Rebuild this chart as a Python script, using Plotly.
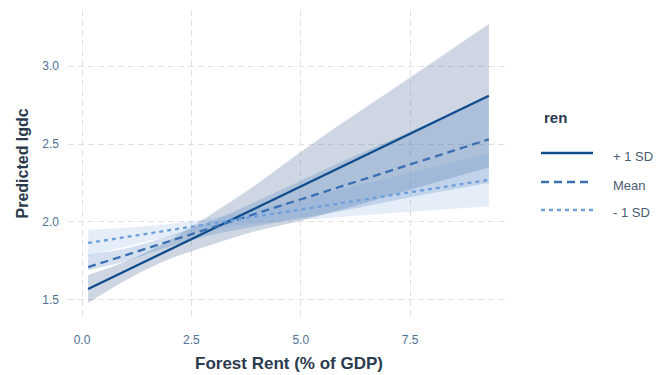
import plotly.graph_objects as go

# Predicted lgdc across forest rent, at three levels of the moderator "ren"
groups = ["+ 1 SD", "Mean", "- 1 SD"]

# fitted line endpoints
line_x = [0.14, 9.3]
fit_hi = [1.57, 2.81]    # + 1 SD
fit_mean = [1.71, 2.53]  # Mean
fit_lo = [1.865, 2.27]   # - 1 SD

# confidence ribbons
band_x = [0.14, 1.0, 2.0, 3.0, 4.0, 5.0, 6.0, 7.5, 9.3]
hi_lower = [1.48, 1.626, 1.762, 1.857, 1.943, 2.008, 2.084, 2.207, 2.35]
hi_upper = [1.66, 1.746, 1.882, 2.057, 2.243, 2.448, 2.644, 2.927, 3.27]
mean_lower = [1.69, 1.747, 1.842, 1.919, 1.974, 2.025, 2.074, 2.159, 2.25]
mean_upper = [1.79, 1.83, 1.912, 2.009, 2.134, 2.265, 2.394, 2.579, 2.81]
lo_lower = [1.78, 1.843, 1.907, 1.956, 1.991, 2.015, 2.034, 2.065, 2.10]
lo_upper = [1.95, 1.963, 1.987, 2.026, 2.081, 2.145, 2.214, 2.315, 2.44]

x_ticks = [0.0, 2.5, 5.0, 7.5]
y_ticks = [1.5, 2.0, 2.5, 3.0]

line_colors = ["#0f4c8c", "#3a70b2", "#6c9fda"]
band_colors = ["rgba(45,85,135,0.24)", "rgba(60,115,185,0.22)", "rgba(110,155,215,0.18)"]
dashes = ["solid", "8px,5px", "4px,4px"]

FONT = "Liberation Sans, Arial, sans-serif"
W, H = 657, 375
M = dict(l=68, r=148, t=10, b=58)
PW, PH = W - M["l"] - M["r"], H - M["t"] - M["b"]


def px(x):
    return (x - M["l"]) / PW


def py(y):
    return 1 - (y - M["t"]) / PH


fig = go.Figure()

bands = [(hi_lower, hi_upper), (mean_lower, mean_upper), (lo_lower, lo_upper)]
for (lower, upper), col in zip(bands, band_colors):
    fig.add_trace(go.Scatter(x=band_x, y=lower, mode="lines", line=dict(width=0, shape="spline"),
                             showlegend=False, hoverinfo="skip"))
    fig.add_trace(go.Scatter(x=band_x, y=upper, mode="lines", line=dict(width=0, shape="spline"),
                             fill="tonexty", fillcolor=col, showlegend=False,
                             hoverinfo="skip"))

for name, ys, col, dash in zip(groups, [fit_hi, fit_mean, fit_lo], line_colors, dashes):
    fig.add_trace(go.Scatter(x=line_x, y=ys, mode="lines", name=name,
                             line=dict(color=col, width=2.3, dash=dash),
                             showlegend=False))

tick_font = dict(family=FONT, size=12, color="#4f6f96")
grid = dict(showgrid=True, gridcolor="#e2e2e2", gridwidth=1, griddash="6px,4px",
            zeroline=False, showline=False, ticks="", tickfont=tick_font)

fig.update_xaxes(range=[-0.32, 9.76], tickvals=x_ticks,
                 ticktext=[f"{v:.1f}" for v in x_ticks], ticklabelstandoff=14, **grid)
fig.update_yaxes(range=[1.39, 3.36], tickvals=y_ticks,
                 ticktext=[f"{v:.1f}" for v in y_ticks], ticklabelstandoff=8, **grid)

annotations = [
    dict(text="<b>Forest Rent (% of GDP)</b>", x=0.5, y=py(363), xref="paper", yref="paper",
         showarrow=False, font=dict(family=FONT, size=17, color="#2b3a4d"),
         xanchor="center", yanchor="middle"),
    dict(text="<b>Predicted lgdc</b>", x=px(22), y=0.5, xref="paper", yref="paper",
         showarrow=False, font=dict(family=FONT, size=16, color="#2b3a4d"),
         textangle=-90, xanchor="center", yanchor="middle"),
    dict(text="<b>ren</b>", x=px(542), y=py(118), xref="paper", yref="paper",
         showarrow=False, font=dict(family=FONT, size=15, color="#2b3a4d"),
         xanchor="left", yanchor="middle"),
]

# key for the three "ren" levels
shapes = []
key_y_line = [153, 182, 210]
key_y_text = [156, 185, 212]
for name, col, dash, yl, yt in zip(groups, line_colors, dashes, key_y_line, key_y_text):
    shapes.append(dict(type="line", xref="paper", yref="paper",
                       x0=px(541), x1=px(593), y0=py(yl), y1=py(yl),
                       line=dict(color=col, width=2.3, dash=dash)))
    annotations.append(dict(text=name, x=px(611), y=py(yt), xref="paper", yref="paper",
                            showarrow=False, xanchor="left", yanchor="middle",
                            font=dict(family=FONT, size=13, color="#4a5c72")))

fig.update_layout(width=W, height=H, margin=M, plot_bgcolor="white", paper_bgcolor="white",
                  showlegend=False, annotations=annotations, shapes=shapes)

fig.write_html("out.html")
